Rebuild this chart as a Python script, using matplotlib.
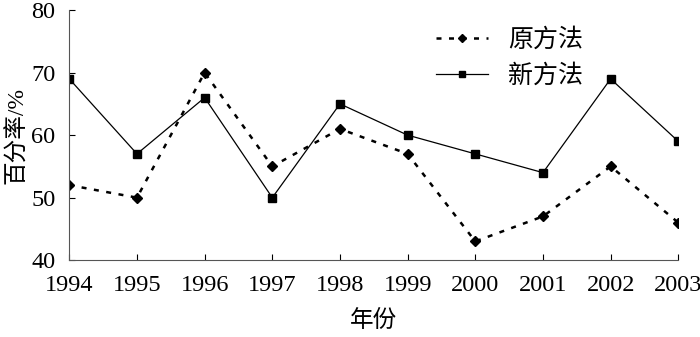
import matplotlib.pyplot as plt

plt.rcParams['font.family'] = ['Liberation Serif', 'Noto Sans CJK SC']

years = [1994, 1995, 1996, 1997, 1998, 1999, 2000, 2001, 2002, 2003]
old_method = [52, 50, 70, 55, 61, 57, 43, 47, 55, 46]
new_method = [69, 57, 66, 50, 65, 60, 57, 54, 69, 59]

fig = plt.figure(figsize=(7, 3.37), dpi=100)
ax = fig.add_axes([0.099, 0.228, 0.87, 0.742])

ax.plot(years, old_method, color='black', linestyle=(0, (2, 3)), linewidth=1.8,
        marker='D', markersize=5.5, label='原方法')
ax.plot(years, new_method, color='black', linestyle='-', linewidth=0.9,
        marker='s', markersize=6, label='新方法')

ax.set_xlim(1994, 2003)
ax.set_ylim(40, 80)
ax.set_xticks(years)
ax.set_yticks([40, 50, 60, 70, 80])
ax.tick_params(direction='in', labelsize=17.5, length=4, width=0.8)
ax.tick_params(axis='x', pad=11)
ax.tick_params(axis='y', pad=10)
for s in ['top', 'right']:
    ax.spines[s].set_visible(False)
for s in ['left', 'bottom']:
    ax.spines[s].set_linewidth(0.8)
    ax.spines[s].set_color('#555555')

ax.set_xlabel('年份', fontsize=17, labelpad=10)
ax.set_ylabel('百分率/%', fontsize=17, labelpad=2)

ax.legend(loc='upper left', bbox_to_anchor=(0.565, 1.02), frameon=False,
          fontsize=18, handlelength=2.1, handletextpad=0.8, labelspacing=0.5,
          markerscale=0.8)

fig.savefig('out.png', dpi=100)
